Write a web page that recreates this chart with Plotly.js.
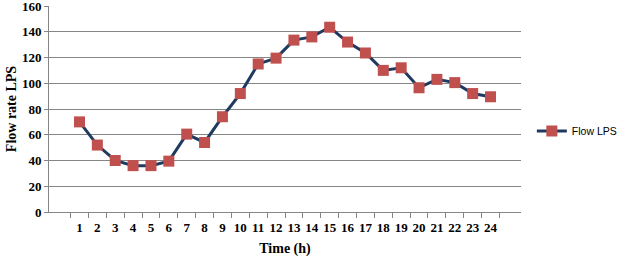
<!DOCTYPE html>
<html>
<head>
<meta charset="utf-8">
<script src="https://cdn.plot.ly/plotly-3.0.1.min.js"></script>
<style>
html,body{margin:0;padding:0;background:#fff;}
#chart{width:617px;height:257px;}
</style>
</head>
<body>
<div id="chart"></div>
<script>
const hours = ["1","2","3","4","5","6","7","8","9","10","11","12","13","14","15","16","17","18","19","20","21","22","23","24"];
const flowLPS = [70, 52, 40, 36, 36, 39.5, 60.5, 54, 74, 92, 115, 119.5, 133.5, 136, 143.5, 132, 123.5, 110, 112, 96.5, 103, 100.5, 92, 89.5];
const seriesName = "Flow LPS";
const yTicks = [0, 20, 40, 60, 80, 100, 120, 140, 160];

const serif = "'Liberation Serif', 'Times New Roman', serif";

const trace = {
  x: hours,
  y: flowLPS,
  name: seriesName,
  type: "scatter",
  mode: "lines+markers",
  line: {color: "#1F3A60", width: 3},
  marker: {symbol: "square", size: 11, color: "#C0504D", line: {width: 0}}
};

const layout = {
  width: 617,
  height: 257,
  margin: {l: 49, r: 96, t: 6, b: 45},
  paper_bgcolor: "#ffffff",
  plot_bgcolor: "#ffffff",
  showlegend: true,
  legend: {
    xref: "container", yref: "container",
    x: 0.862, xanchor: "left", y: 0.49, yanchor: "middle",
    font: {family: "'Liberation Sans', Arial, sans-serif", size: 10.5, color: "#000"},
    bgcolor: "rgba(0,0,0,0)"
  },
  xaxis: {
    type: "category",
    tickson: "boundaries",
    ticks: "outside",
    ticklen: 5,
    tickcolor: "#868686",
    tickangle: 0,
    ticklabelstandoff: 3,
    showline: true,
    linecolor: "#868686",
    linewidth: 1,
    showgrid: false,
    zeroline: false,
    tickfont: {family: serif, size: 13, color: "#000", weight: "bold"},
    title: {text: "Time (h)", font: {family: serif, size: 14, color: "#000", weight: "bold"}, standoff: 12},
    automargin: false,
    fixedrange: true
  },
  yaxis: {
    range: [0, 160],
    tickvals: yTicks,
    ticklabeloverflow: "allow",
    ticks: "outside",
    ticklen: 4,
    tickcolor: "#868686",
    showline: true,
    linecolor: "#868686",
    linewidth: 1,
    showgrid: true,
    gridcolor: "#868686",
    gridwidth: 1,
    zeroline: false,
    tickfont: {family: serif, size: 13, color: "#000", weight: "bold"},
    title: {text: "Flow rate LPS", font: {family: serif, size: 14, color: "#000", weight: "bold"}, standoff: 2},
    automargin: false,
    fixedrange: true
  }
};

Plotly.newPlot("chart", [trace], layout, {displayModeBar: false, staticPlot: true});
</script>
</body>
</html>
